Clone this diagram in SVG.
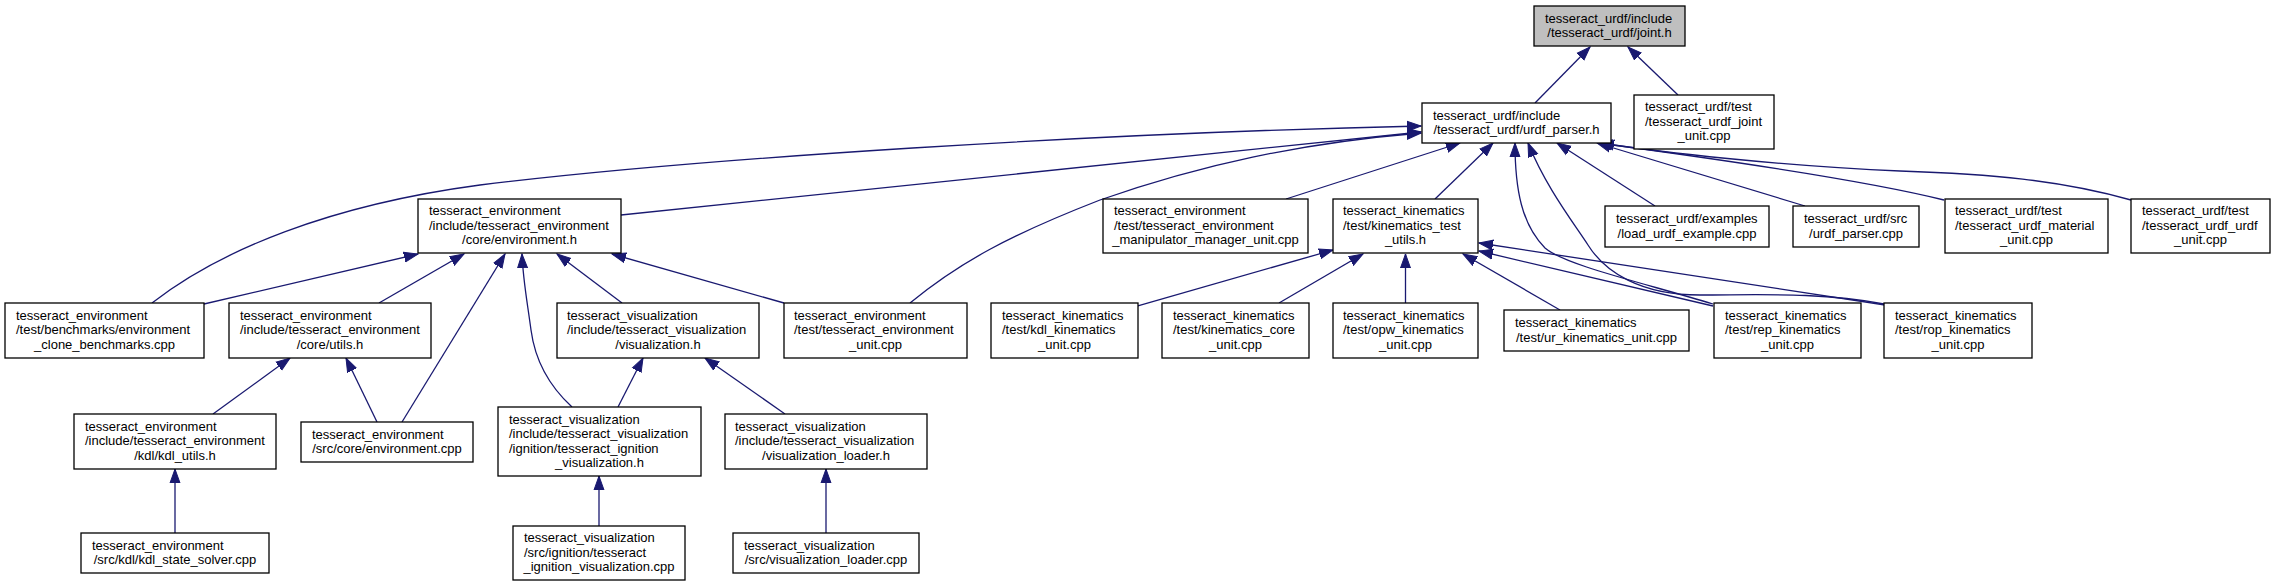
<svg xmlns="http://www.w3.org/2000/svg" width="2275" height="587" viewBox="0 0 2275 587">
<style>
.n rect{fill:#fff;stroke:#000;stroke-width:1.3}
.n.g rect{fill:#bfbfbf}
text{font-family:"Liberation Sans",Arial,Helvetica,sans-serif;font-size:13px;fill:#000}
.c{text-anchor:middle}
.e path{fill:none;stroke:#191970;stroke-width:1.3;marker-end:url(#a)}
</style>
<defs>
<marker id="a" markerUnits="userSpaceOnUse" markerWidth="16" markerHeight="12" viewBox="0 -6 16 12" refX="14" refY="0" orient="auto">
<path d="M0,-5L14,0L0,5z" fill="#191970" stroke="#191970" stroke-width="1"/>
</marker>
</defs>
<rect width="2275" height="587" fill="#fff"/>
<g class="e" id="edges">
<path d="M1535,103 L1590,47"/>
<path d="M1678,95 L1628,47"/>
<path d="M152,303 C220,250 330,205 480,185 C700,158 1100,133 1421,126"/>
<path d="M621,215 L1421,132"/>
<path d="M910,303 C960,262 1010,235 1100,200 C1200,165 1300,143 1421,133"/>
<path d="M1286,199 L1460,143"/>
<path d="M1435,199 L1493,143"/>
<path d="M1713,304 C1640,282 1565,265 1545,248 C1522,225 1515,190 1515,143"/>
<path d="M1884,304 C1820,292 1760,295 1700,295 C1640,295 1605,272 1588,245 C1570,218 1545,185 1528,143"/>
<path d="M1655,206 L1557,143"/>
<path d="M1805,206 L1597,143"/>
<path d="M1944,200 C1900,189 1800,170 1598,143"/>
<path d="M2131,200 C2060,180 1990,174 1900,171 C1780,166 1660,152 1600,143"/>
<path d="M204,304 L418,254"/>
<path d="M379,303 L464,254"/>
<path d="M402,422 L505,254"/>
<path d="M572,407 C548,385 535,360 531,330 C527,300 523,280 522,254"/>
<path d="M622,303 L557,254"/>
<path d="M784,303 L612,254"/>
<path d="M213,414 L290,358"/>
<path d="M377,422 L346,358"/>
<path d="M618,407 L643,358"/>
<path d="M785,414 L705,358"/>
<path d="M175,533 L175,469"/>
<path d="M599,526 L599,476"/>
<path d="M826,533 L826,469"/>
<path d="M1137,306 L1333,250"/>
<path d="M1279,303 L1363,254"/>
<path d="M1405.5,303 L1405.5,254"/>
<path d="M1560,310 L1463,254"/>
<path d="M1713,306 L1479,251"/>
<path d="M1885,305 L1479,243"/>
</g>
<g class="n g" id="joint_h"><rect x="1534" y="6" width="151" height="40"/><text x="1545" y="22.5">tesseract_urdf/include</text><text class="c" x="1609.5" y="37">/tesseract_urdf/joint.h</text></g>
<g class="n" id="urdf_parser_h"><rect x="1422" y="103" width="189" height="40"/><text x="1433" y="119.5">tesseract_urdf/include</text><text class="c" x="1516.5" y="134">/tesseract_urdf/urdf_parser.h</text></g>
<g class="n" id="urdf_joint_unit"><rect x="1634" y="95" width="140" height="54"/><text x="1645" y="111.3">tesseract_urdf/test</text><text x="1645" y="125.8">/tesseract_urdf_joint</text><text class="c" x="1704" y="140.3">_unit.cpp</text></g>
<g class="n" id="environment_h"><rect x="418" y="199" width="203" height="54"/><text x="429" y="215.3">tesseract_environment</text><text x="429" y="229.8">/include/tesseract_environment</text><text class="c" x="519.5" y="244.3">/core/environment.h</text></g>
<g class="n" id="manip_unit"><rect x="1103" y="199" width="205" height="54"/><text x="1114" y="215.3">tesseract_environment</text><text x="1114" y="229.8">/test/tesseract_environment</text><text class="c" x="1205.5" y="244.3">_manipulator_manager_unit.cpp</text></g>
<g class="n" id="kin_test_utils"><rect x="1333" y="199" width="145" height="54"/><text x="1343" y="215.3">tesseract_kinematics</text><text x="1343" y="229.8">/test/kinematics_test</text><text class="c" x="1405.5" y="244.3">_utils.h</text></g>
<g class="n" id="load_urdf_example"><rect x="1605" y="206" width="164" height="41"/><text x="1616" y="223">tesseract_urdf/examples</text><text class="c" x="1687" y="237.5">/load_urdf_example.cpp</text></g>
<g class="n" id="urdf_parser_cpp"><rect x="1793" y="206" width="126" height="41"/><text x="1804" y="223">tesseract_urdf/src</text><text class="c" x="1856" y="237.5">/urdf_parser.cpp</text></g>
<g class="n" id="urdf_material_unit"><rect x="1945" y="199" width="163" height="54"/><text x="1955" y="215.3">tesseract_urdf/test</text><text x="1955" y="229.8">/tesseract_urdf_material</text><text class="c" x="2026.5" y="244.3">_unit.cpp</text></g>
<g class="n" id="urdf_urdf_unit"><rect x="2131" y="199" width="139" height="54"/><text x="2142" y="215.3">tesseract_urdf/test</text><text x="2142" y="229.8">/tesseract_urdf_urdf</text><text class="c" x="2200.5" y="244.3">_unit.cpp</text></g>
<g class="n" id="benchmarks"><rect x="5" y="303" width="199" height="55"/><text x="16" y="319.8">tesseract_environment</text><text x="16" y="334.3">/test/benchmarks/environment</text><text class="c" x="104.5" y="348.8">_clone_benchmarks.cpp</text></g>
<g class="n" id="utils_h"><rect x="229" y="303" width="202" height="55"/><text x="240" y="319.8">tesseract_environment</text><text x="240" y="334.3">/include/tesseract_environment</text><text class="c" x="330" y="348.8">/core/utils.h</text></g>
<g class="n" id="visualization_h"><rect x="557" y="303" width="202" height="55"/><text x="567" y="319.8">tesseract_visualization</text><text x="567" y="334.3">/include/tesseract_visualization</text><text class="c" x="658" y="348.8">/visualization.h</text></g>
<g class="n" id="env_unit"><rect x="784" y="303" width="183" height="55"/><text x="794" y="319.8">tesseract_environment</text><text x="794" y="334.3">/test/tesseract_environment</text><text class="c" x="875.5" y="348.8">_unit.cpp</text></g>
<g class="n" id="kdl_kin_unit"><rect x="991" y="303" width="147" height="55"/><text x="1002" y="319.8">tesseract_kinematics</text><text x="1002" y="334.3">/test/kdl_kinematics</text><text class="c" x="1064.5" y="348.8">_unit.cpp</text></g>
<g class="n" id="kin_core_unit"><rect x="1162" y="303" width="147" height="55"/><text x="1173" y="319.8">tesseract_kinematics</text><text x="1173" y="334.3">/test/kinematics_core</text><text class="c" x="1235.5" y="348.8">_unit.cpp</text></g>
<g class="n" id="opw_unit"><rect x="1333" y="303" width="145" height="55"/><text x="1343" y="319.8">tesseract_kinematics</text><text x="1343" y="334.3">/test/opw_kinematics</text><text class="c" x="1405.5" y="348.8">_unit.cpp</text></g>
<g class="n" id="ur_unit"><rect x="1504" y="310" width="185" height="41"/><text x="1515" y="327">tesseract_kinematics</text><text class="c" x="1596.5" y="341.5">/test/ur_kinematics_unit.cpp</text></g>
<g class="n" id="rep_unit"><rect x="1714" y="303" width="147" height="55"/><text x="1725" y="319.8">tesseract_kinematics</text><text x="1725" y="334.3">/test/rep_kinematics</text><text class="c" x="1787.5" y="348.8">_unit.cpp</text></g>
<g class="n" id="rop_unit"><rect x="1884" y="303" width="148" height="55"/><text x="1895" y="319.8">tesseract_kinematics</text><text x="1895" y="334.3">/test/rop_kinematics</text><text class="c" x="1958" y="348.8">_unit.cpp</text></g>
<g class="n" id="kdl_utils_h"><rect x="74" y="414" width="202" height="55"/><text x="85" y="430.8">tesseract_environment</text><text x="85" y="445.3">/include/tesseract_environment</text><text class="c" x="175" y="459.8">/kdl/kdl_utils.h</text></g>
<g class="n" id="environment_cpp"><rect x="301" y="422" width="172" height="40"/><text x="312" y="438.5">tesseract_environment</text><text class="c" x="387" y="453">/src/core/environment.cpp</text></g>
<g class="n" id="ignition_h"><rect x="498" y="407" width="203" height="69"/><text x="509" y="423.5">tesseract_visualization</text><text x="509" y="438">/include/tesseract_visualization</text><text x="509" y="452.5">/ignition/tesseract_ignition</text><text class="c" x="599.5" y="467">_visualization.h</text></g>
<g class="n" id="loader_h"><rect x="725" y="414" width="202" height="55"/><text x="735" y="430.8">tesseract_visualization</text><text x="735" y="445.3">/include/tesseract_visualization</text><text class="c" x="826" y="459.8">/visualization_loader.h</text></g>
<g class="n" id="kdl_state_solver"><rect x="81" y="533" width="188" height="40"/><text x="92" y="549.5">tesseract_environment</text><text class="c" x="175" y="564">/src/kdl/kdl_state_solver.cpp</text></g>
<g class="n" id="ignition_cpp"><rect x="513" y="526" width="172" height="54"/><text x="524" y="542.3">tesseract_visualization</text><text x="524" y="556.8">/src/ignition/tesseract</text><text class="c" x="599" y="571.3">_ignition_visualization.cpp</text></g>
<g class="n" id="loader_cpp"><rect x="733" y="533" width="186" height="40"/><text x="744" y="549.5">tesseract_visualization</text><text class="c" x="826" y="564">/src/visualization_loader.cpp</text></g>
</svg>
